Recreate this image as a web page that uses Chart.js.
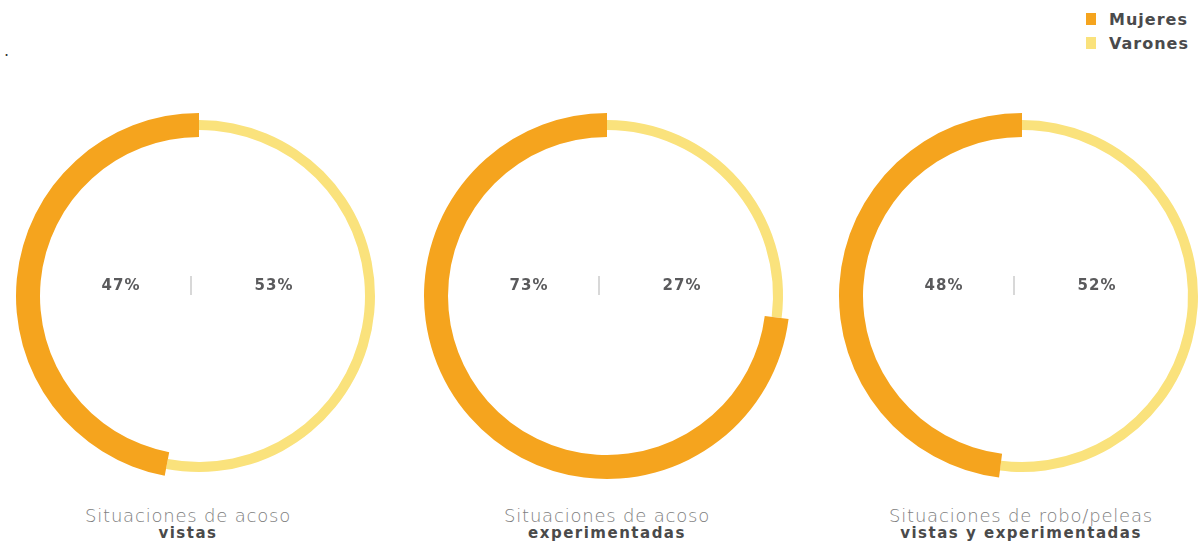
<!DOCTYPE html>
<html>
<head>
<meta charset="utf-8">
<script src="https://cdn.jsdelivr.net/npm/chart.js@4"></script>
<style>
  html, body { margin: 0; padding: 0; background: #fff; }
  body { width: 1202px; height: 544px; position: relative; overflow: hidden; font-family: "DejaVu Sans", sans-serif; }
  canvas.ring { position: absolute; }
  .pct { position: absolute; transform: translate(-50%, -50%); font-weight: 700; font-size: 15px; color: #5a5a5c; letter-spacing: 1px; }
  .sep { position: absolute; width: 2px; height: 19px; background: #d8d8d8; }
  .cap { position: absolute; transform: translateX(-50%); text-align: center; white-space: nowrap; }
  .cap .l1 { font-weight: 200; font-size: 18px; line-height: 18px; color: #7e7e7e; letter-spacing: 0.8px; }
  .cap .l2 { font-weight: 700; font-size: 15px; line-height: 16px; color: #4a4a4a; letter-spacing: 1.5px; }
  .legend { position: absolute; left: 1086px; top: 11px; }
  .legend div { position: relative; height: 24px; font-weight: 700; font-size: 16px; color: #4a4a4c; padding-left: 23px; line-height: 17px; letter-spacing: 1px; }
  .legend span { position: absolute; left: 0; top: 2px; width: 10px; height: 12px; }
  .dot { position: absolute; left: 4px; top: 41px; font-size: 16px; color: #333; }
</style>
</head>
<body>
<div class="dot">.</div>
<div class="legend" id="legend"></div>
<script>
// Series (share of each group, in %)
const categories = ['Mujeres', 'Varones'];
const mujeres = [47, 73, 48];
const varones = [53, 27, 52];
const captionTop = ['Situaciones de acoso', 'Situaciones de acoso', 'Situaciones de robo/peleas'];
const captionBottom = ['vistas', 'experimentadas', 'vistas y experimentadas'];

// Look of the rings
const colors = { Mujeres: '#F5A41E', Varones: '#FAE27C' };
const ringBands = { Mujeres: [159, 183], Varones: [166, 176] }; // inner / outer radius
const centers = [199, 607, 1022];
const captionX = [188, 607, 1021];
const centerY = 296;
const size = 380;

// Each group gets its own band thickness around a common middle radius
const bandPlugin = {
  id: 'bands',
  afterDatasetsUpdate(chart) {
    const meta = chart.getDatasetMeta(0);
    meta.data.forEach((arc, i) => {
      const band = ringBands[chart.data.labels[i]];
      arc.innerRadius = band[0];
      arc.outerRadius = band[1];
    });
  }
};

function addDiv(cls, html, css) {
  const d = document.createElement('div');
  d.className = cls;
  d.innerHTML = html;
  Object.assign(d.style, css);
  document.body.appendChild(d);
  return d;
}

// Legend
const legend = document.getElementById('legend');
categories.forEach(c => {
  const row = document.createElement('div');
  row.innerHTML = '<span style="background:' + colors[c] + '"></span>' + c;
  legend.appendChild(row);
});

centers.forEach((cx, k) => {
  const cv = document.createElement('canvas');
  cv.className = 'ring';
  cv.width = size; cv.height = size;
  cv.style.left = (cx - size / 2) + 'px';
  cv.style.top = (centerY - size / 2) + 'px';
  cv.style.width = size + 'px'; cv.style.height = size + 'px';
  document.body.appendChild(cv);

  // Varones first so it runs clockwise from 12 o'clock; Mujeres closes the circle
  const labels = ['Varones', 'Mujeres'];
  new Chart(cv, {
    type: 'doughnut',
    data: {
      labels: labels,
      datasets: [{
        data: [varones[k], mujeres[k]],
        backgroundColor: labels.map(l => colors[l]),
        borderWidth: 0
      }]
    },
    options: {
      responsive: false,
      animation: false,
      devicePixelRatio: 1,
      radius: 183,
      cutout: 159,
      layout: { padding: 0 },
      plugins: { legend: { display: false }, tooltip: { enabled: false } }
    },
    plugins: [bandPlugin]
  });

  const sepX = cx - 8;
  addDiv('pct', mujeres[k] + '%', { left: (sepX - 70) + 'px', top: '285px' });
  addDiv('sep', '', { left: (sepX - 1) + 'px', top: '276px' });
  addDiv('pct', varones[k] + '%', { left: (sepX + 83) + 'px', top: '285px' });
  addDiv('cap', '<div class="l1">' + captionTop[k] + '</div><div class="l2">' + captionBottom[k] + '</div>',
    { left: captionX[k] + 'px', top: '507px' });
});
</script>
</body>
</html>
